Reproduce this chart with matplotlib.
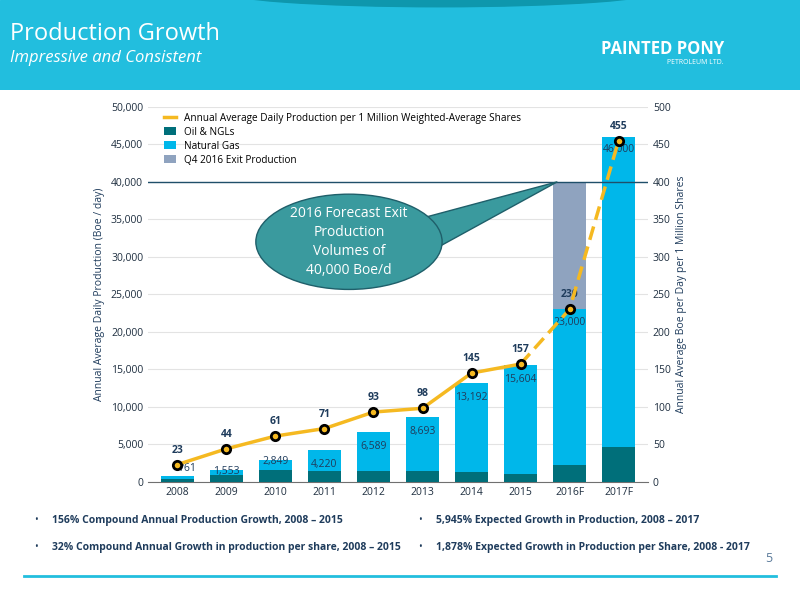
import numpy as np
import matplotlib.pyplot as plt
from matplotlib.patches import Rectangle, Ellipse, Polygon

plt.rcParams['font.family'] = ['Open Sans', 'DejaVu Sans']

years = ['2008', '2009', '2010', '2011', '2012', '2013', '2014', '2015', '2016F', '2017F']
total = [761, 1553, 2849, 4220, 6589, 8693, 13192, 15604, 23000, 46000]
oil = [400, 880, 1600, 1500, 1500, 1500, 1350, 1100, 2300, 4700]
exit_2016 = 40000
per_share = [23, 44, 61, 71, 93, 98, 145, 157, 230, 455]
total_labels = ['761', '1,553', '2,849', '4,220', '6,589', '8,693', '13,192', '15,604', '23,000', '46,000']

C_OIL = '#006f7a'
C_GAS = '#00b7ea'
C_EXIT = '#8fa3bf'
C_LINE = '#f5b921'
C_TXT = '#1f3c5c'

fig = plt.figure(figsize=(8, 6), dpi=100)
fig.patch.set_facecolor('white')

# header band
hdr = fig.add_axes([0, 0.85, 1, 0.15])
hdr.set_xlim(0, 1); hdr.set_ylim(0, 1); hdr.axis('off')
hdr.add_patch(Rectangle((0, 0), 1, 1, color='#22bede'))
hdr.add_patch(Ellipse((0.55, 1.1), 0.55, 0.35, color='#0e97ad'))
hdr.text(0.012, 0.62, 'Production Growth', color='white', fontsize=17, va='center')
hdr.text(0.012, 0.36, 'Impressive and Consistent', color='white', fontsize=12, style='italic', va='center')
hdr.text(0.905, 0.45, 'PAINTED PONY', color='white', fontsize=12, fontweight='bold', ha='right', va='center')
hdr.text(0.905, 0.30, 'PETROLEUM LTD.', color='white', fontsize=5, ha='right', va='center')

# bottom line
fig.add_artist(plt.Line2D([0.03, 0.97], [0.04, 0.04], color='#22bede', lw=2))
fig.text(0.965, 0.063, '5', color='#5a7a9a', fontsize=9, ha='right')

ax = fig.add_axes([0.185, 0.197, 0.625, 0.625])
x = np.arange(len(years))
w = 0.68
gas = [t - o for t, o in zip(total, oil)]
ax.bar(x[8], exit_2016, w, color=C_EXIT, label='Q4 2016 Exit Production', zorder=2)
ax.bar(x, oil, w, color=C_OIL, label='Oil & NGLs', zorder=3)
ax.bar(x, gas, w, bottom=oil, color=C_GAS, label='Natural Gas', zorder=3)
ax.set_ylim(0, 50000)
ax.set_xlim(-0.6, 9.6)
ax.set_yticks(range(0, 50001, 5000))
ax.set_yticklabels([f'{v:,}' for v in range(0, 50001, 5000)])
ax.set_xticks(x)
ax.set_xticklabels(years)
ax.grid(axis='y', color='#e3e3e3', lw=0.8, zorder=0)
for s in ['top', 'right', 'left']:
    ax.spines[s].set_visible(False)
ax.spines['bottom'].set_color('#707070')
ax.tick_params(length=0, labelsize=7.5, colors='#1f2f40')
ax.set_ylabel('Annual Average Daily Production (Boe / day)', fontsize=7.5, color=C_TXT)
ax.axhline(exit_2016, color='#1f4f6a', lw=1, zorder=4)

for i, (t, lab) in enumerate(zip(total, total_labels)):
    if i == 0:
        ax.text(i + 0.2, t + 300, lab, ha='center', va='bottom', fontsize=7.5, color=C_TXT, zorder=6)
    elif i < 3:
        ax.text(i, t - 200, lab, ha='center', va='center', fontsize=7.5, color=C_TXT, zorder=6)
    else:
        ax.text(i, t - 1200 if i < 8 else t - 1000, lab, ha='center', va='top', fontsize=7.5, color=C_TXT, zorder=6)

ax2 = ax.twinx()
ax2.set_ylim(0, 500)
ax2.set_yticks(range(0, 501, 50))
for s in ['top', 'right', 'left', 'bottom']:
    ax2.spines[s].set_visible(False)
ax2.tick_params(length=0, labelsize=7.5, colors='#1f2f40')
ax2.set_ylabel('Annual Average Boe per Day per 1 Million Shares', fontsize=7.5, color=C_TXT)
ax2.plot(x[:8], per_share[:8], color=C_LINE, lw=2.5, zorder=5,
         label='Annual Average Daily Production per 1 Million Weighted-Average Shares')
ax2.plot(x[7:], per_share[7:], color=C_LINE, lw=2.5, ls=(0, (4, 2)), zorder=5)
ax2.plot(x, per_share, 'o', ms=6, mfc=C_LINE, mec='black', mew=2, zorder=6)
for i, v in enumerate(per_share):
    ax2.text(i, v + 12, str(v), ha='center', va='bottom', fontsize=7.5, color=C_TXT, fontweight='bold')

h1, l1 = ax2.get_legend_handles_labels()
h2, l2 = ax.get_legend_handles_labels()
order = [h1[0], h2[1], h2[2], h2[0]]
labs = [l1[0], l2[1], l2[2], l2[0]]
ax2.legend(order, labs, loc='upper left', bbox_to_anchor=(0.02, 1.0), frameon=False,
           fontsize=7.2, handlelength=1.2, handleheight=0.9, labelspacing=0.3, borderaxespad=0.2)

# callout (drawn on ax2 so it sits above the line)
ax2.add_patch(Polygon([[4.9, 350], [7.75, 400], [5.1, 305]], closed=True,
                      fc='#3a9a9e', ec='#1f5f6a', lw=1, zorder=7))
ax2.add_patch(Ellipse((3.5, 320), 3.8, 127, fc='#3a9a9e', ec='#1f5f6a', lw=1, zorder=8))
ax2.add_patch(Polygon([[4.8, 352], [5.25, 330], [5.0, 303]], closed=True, fc='#3a9a9e', ec='none', zorder=9))
ax2.text(3.5, 320, '2016 Forecast Exit\nProduction\nVolumes of\n40,000 Boe/d', ha='center', va='center',
         fontsize=10, color='white', zorder=10, linespacing=1.35)

notes = [(0.065, 0.132, '156% Compound Annual Production Growth, 2008 – 2015'),
         (0.545, 0.132, '5,945% Expected Growth in Production, 2008 – 2017'),
         (0.065, 0.088, '32% Compound Annual Growth in production per share, 2008 – 2015'),
         (0.545, 0.088, '1,878% Expected Growth in Production per Share, 2008 - 2017')]
for nx, ny, t in notes:
    fig.text(nx - 0.022, ny, '•', fontsize=7, color=C_TXT, va='center')
    fig.text(nx, ny, t, fontsize=7.5, color=C_TXT, va='center', fontweight='bold')

fig.savefig('out.png', dpi=100)
